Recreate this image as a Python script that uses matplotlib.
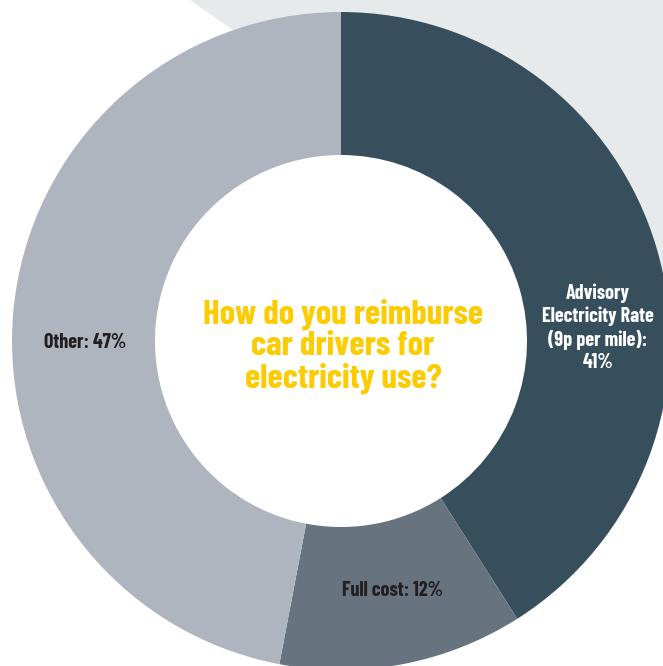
import matplotlib.pyplot as plt
from matplotlib.patches import Polygon

# data
labels = ["Advisory\nElectricity Rate\n(9p per mile):\n41%", "Full cost: 12%", "Other: 47%"]
values = [41, 12, 47]
colors = ["#374f5d", "#677480", "#afb5bf"]
question = "How do you reimburse\ncar drivers for\nelectricity use?"

W, H = 663, 666
FONT = ["Barlow Condensed", "DejaVu Sans"]

fig = plt.figure(figsize=(W / 100, H / 100), dpi=100)
ax = fig.add_axes([0, 0, 1, 1])

# light grey backdrop in the top right corner
ax.add_patch(Polygon([(190, H), (720, H), (720, H - 420), (500, H - 217)],
                     closed=True, color="#e6eaeb", lw=0, zorder=0))

cx, cy, r = 341, H - 341, 329
wedges, _ = ax.pie(values, colors=colors, startangle=90, counterclock=False,
                   center=(cx, cy), radius=r, frame=True,
                   wedgeprops=dict(width=143, linewidth=0))
for w in wedges:
    w.set_zorder(2)
ax.set_xlim(0, W)
ax.set_ylim(0, H)
ax.set_aspect("equal")
ax.axis("off")

ax.text(cx + 2, H - 346, question, ha="center", va="center", color="#fccb00",
        fontsize=25, fontweight="bold", family=FONT, linespacing=1.05, zorder=3)

ax.text(598, H - 328, labels[0], ha="center", va="center", color="white",
        fontsize=14.5, fontweight="bold", family=FONT, linespacing=1.22, zorder=3)
ax.text(392, H - 591, labels[1], ha="center", va="center", color="#231f20",
        fontsize=14.5, fontweight="bold", family=FONT, zorder=3)
ax.text(85, H - 342, labels[2], ha="center", va="center", color="#231f20",
        fontsize=14.5, fontweight="bold", family=FONT, zorder=3)

fig.savefig("out.png", dpi=100)
